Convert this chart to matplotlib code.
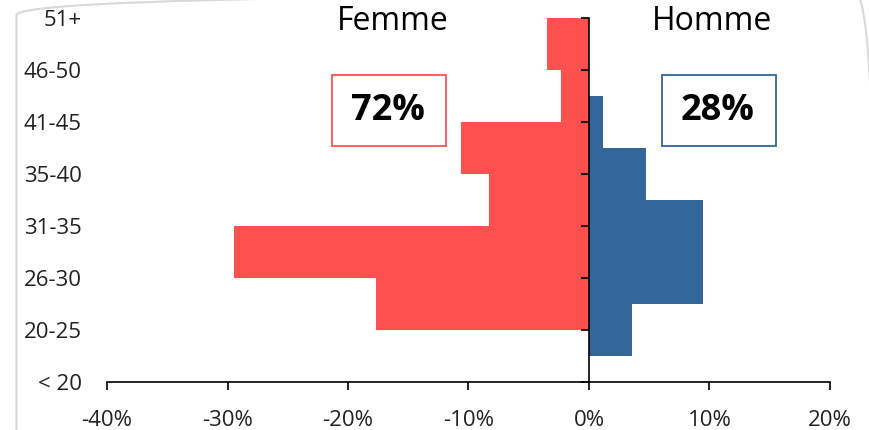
import numpy as np
import matplotlib
matplotlib.use("Agg")
import matplotlib.pyplot as plt
from matplotlib.patches import FancyBboxPatch

plt.rcParams['font.family'] = ['Open Sans', 'DejaVu Sans']

# age groups, bottom to top
ages = ["< 20", "20-25", "26-30", "31-35", "35-40", "41-45", "46-50", "51+"]

# femme: bars drawn from each age tick up to the next one (as in the source)
femme_start = [1, 2, 3, 4, 5, 6]
femme_pct = [17.7, 29.5, 8.3, 10.6, 2.3, 3.5]

# homme: bars centred on the age ticks
homme_pos = [1, 2, 3, 4, 5]
homme_pct = [3.6, 9.5, 9.5, 4.7, 1.2]

xticks = [-40, -30, -20, -10, 0, 10, 20]
share_femme = "72%"
share_homme = "28%"

red = "#FF5050"
blue = "#336699"

fig = plt.figure(figsize=(8.7, 4.3), dpi=100)
ax = fig.add_axes([107 / 870, 1 - 382 / 430, 723 / 870, 364 / 430])

ax.barh(femme_start, [-v for v in femme_pct], height=1, align='edge',
        color=red, linewidth=0, clip_on=False)
ax.barh(homme_pos, homme_pct, height=1, align='center',
        color=blue, linewidth=0, clip_on=False)

ax.set_xlim(-40, 20)
ax.set_ylim(0, 7)

for s in ['top', 'right']:
    ax.spines[s].set_visible(False)
ax.spines['left'].set_position(('data', 0))
ax.spines['left'].set_linewidth(1.2)
ax.spines['bottom'].set_linewidth(1.2)
ax.spines['left'].set_zorder(5)

ax.set_xticks(xticks)
ax.set_xticklabels([f"{v}%" for v in xticks])
ax.set_yticks(range(len(ages)))
ax.set_yticklabels([])
ax.tick_params(axis='both', direction='out', length=6, width=1.2,
               labelsize=16, colors='black', labelcolor='#222222')
ax.tick_params(axis='x', pad=14)

for i, a in enumerate(ages):
    ax.text(-0.0346, i - 0.04, a, transform=ax.get_yaxis_transform(),
            ha='right', va='center', fontsize=16, color='#222222')

# titles and share boxes
fig.text(393 / 870, 1 - 22 / 430, "Femme", ha='center', va='center', fontsize=23)
fig.text(712 / 870, 1 - 22 / 430, "Homme", ha='center', va='center', fontsize=23)

fig.patches.append(plt.Rectangle((332 / 870, 1 - 146 / 430), 114 / 870, 71 / 430,
                                 transform=fig.transFigure, fill=False,
                                 edgecolor=red, linewidth=1.3))
fig.patches.append(plt.Rectangle((662 / 870, 1 - 146 / 430), 114 / 870, 71 / 430,
                                 transform=fig.transFigure, fill=False,
                                 edgecolor=blue, linewidth=1.3))
fig.text(388 / 870, 1 - 111 / 430, share_femme, ha='center', va='center',
         fontsize=26, fontweight='bold')
fig.text(718 / 870, 1 - 111 / 430, share_homme, ha='center', va='center',
         fontsize=26, fontweight='bold')

# light rounded frame of the chart area (top and right edges lie just off the image)
frame = FancyBboxPatch((16.5, -40), 860, 475.5, boxstyle="round,pad=0,rounding_size=20.5",
                       transform=None, fill=False, edgecolor="#D9D9D9", linewidth=1.5)
fig.patches.append(frame)

fig.savefig("out.png", dpi=100)
